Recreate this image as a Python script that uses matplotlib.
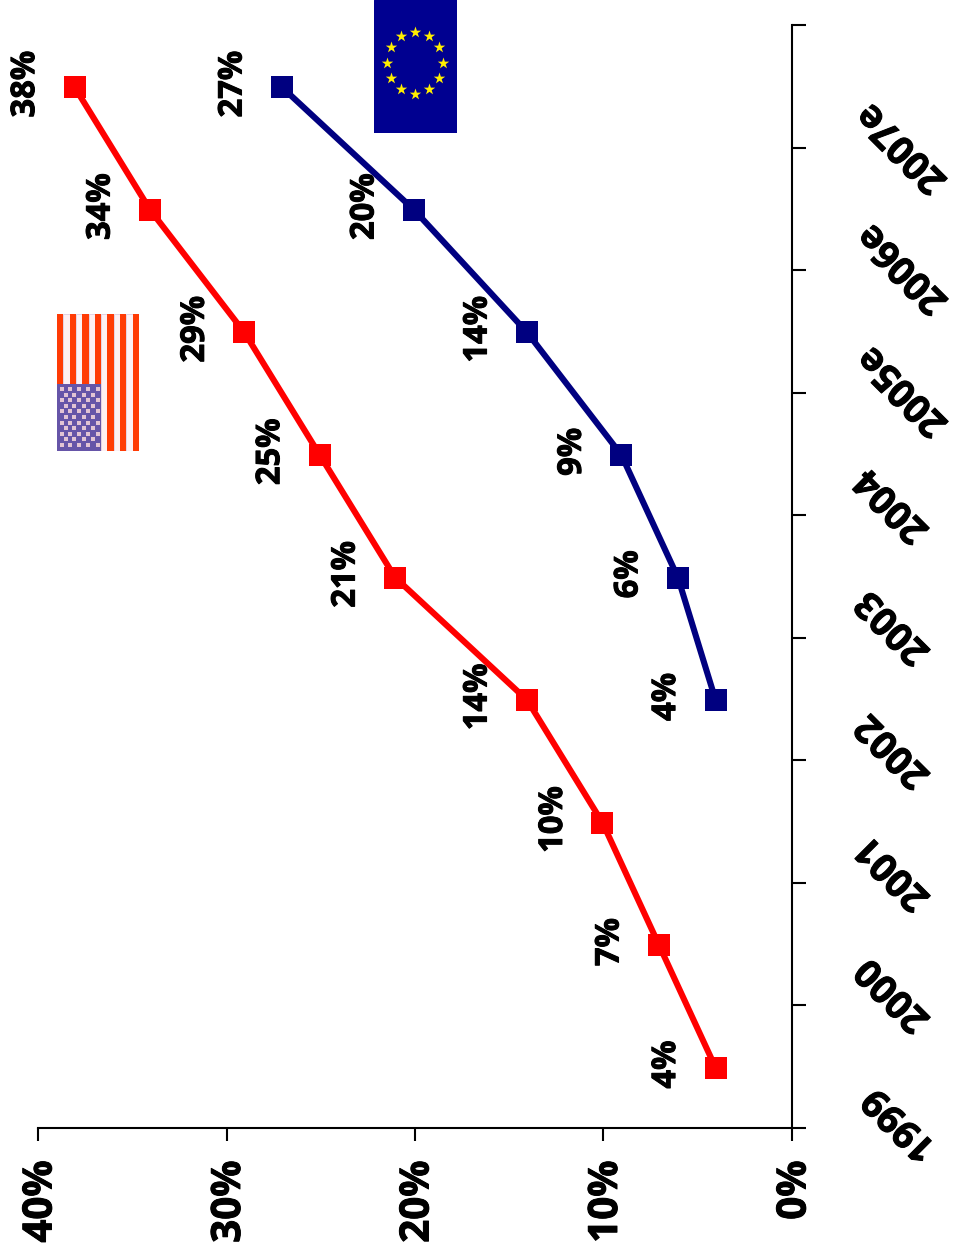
import numpy as np
from matplotlib import pyplot as plt
from matplotlib.patches import Rectangle
from matplotlib.transforms import ScaledTranslation
import matplotlib.patheffects as pe

W, H = 954, 1256

years = ['1999', '2000', '2001', '2002', '2003', '2004', '2005e', '2006e', '2007e']
us = [4, 7, 10, 14, 21, 25, 29, 34, 38]
eu = [None, None, None, 4, 6, 9, 14, 20, 27]
value_ticks = [0, 10, 20, 30, 40]

# per label pixel shifts, the year labels don't line up evenly in the original
year_dx = [3, -4, -4, -4, -4, -5, -2, -2, -3]
year_dy = [4, 11, 10, 10, 11, 10, 2, 2, 0]

plt.rcParams['font.family'] = ['Open Sans', 'DejaVu Sans']
plt.rcParams['font.weight'] = 'bold'
heavy = [pe.withStroke(linewidth=0.7, foreground='black')]


def px_axes(left, top, right, bottom):
    return fig.add_axes([left / W, 1 - bottom / H, (right - left) / W, (bottom - top) / H])


fig = plt.figure(figsize=(W / 100, H / 100), dpi=100)
ax = px_axes(38, 25, 792, 1128)

# marks sit a pixel off the tick grid in the original
nudge = ax.transData + ScaledTranslation(-1 / 100, -1 / 100, fig.dpi_scale_trans)

pos = np.arange(len(years))
for vals, col in [(us, '#ff0000'), (eu, '#000080')]:
    xs = [v for v in vals if v is not None]
    ys = [p for p, v in zip(pos, vals) if v is not None]
    ax.plot(xs, ys, color=col, lw=4.4, marker='s', ms=16.3, mew=0, clip_on=False, transform=nudge)
    for x, y in zip(xs, ys):
        ax.annotate('%d%%' % x, (x, y), xytext=(-36, 1.5), textcoords='offset points',
                    rotation=90, fontsize=23.5, ha='center', va='center', path_effects=heavy)

ax.set_xlim(40, 0)
ax.set_ylim(-0.5, 8.5)
ax.spines['top'].set_visible(False)
ax.spines['left'].set_visible(False)
ax.spines['right'].set_linewidth(1.5)
ax.spines['bottom'].set_linewidth(1.5)

ax.set_xticks(value_ticks)
ax.set_xticklabels(['%d%%' % v for v in value_ticks], rotation=90, fontsize=29, path_effects=heavy)
ax.tick_params(axis='x', length=9.4, width=1.5, pad=14)
shift = ScaledTranslation(3 / 100, 0, fig.dpi_scale_trans)
for t in ax.get_xticklabels():
    t.set_transform(t.get_transform() + shift)

ax.yaxis.tick_right()
ax.set_yticks(np.arange(-0.5, 9, 1))
ax.set_yticklabels(years + [''], rotation=135, fontsize=27.5, va='center', path_effects=heavy)
ax.tick_params(axis='y', length=10, width=1.5, pad=34)
for t, dx, dy in zip(ax.get_yticklabels(), year_dx, year_dy):
    t.set_transform(t.get_transform() + ScaledTranslation(dx / 100, dy / 100, fig.dpi_scale_trans))

# flags
eu_flag = px_axes(374, 0, 457, 133)
eu_flag.set_xlim(374, 457)
eu_flag.set_ylim(133, 0)
eu_flag.axis('off')
eu_flag.add_patch(Rectangle((374, 0), 83, 133, color='#000090'))
a = np.arange(12) * np.pi / 6
eu_flag.scatter(415 + 28 * np.sin(a), 62.5 - 31 * np.cos(a), marker='*', s=75, color='#ffee00', lw=0)

us_flag = px_axes(57, 314, 139, 451)
us_flag.set_xlim(0, 13)
us_flag.set_ylim(451, 314)
us_flag.axis('off')
for i in range(13):
    if i % 2 == 0:
        us_flag.add_patch(Rectangle((i, 314), 1, 137, color='#ff3b05', lw=0))
    else:
        us_flag.add_patch(Rectangle((i, 314), 1, 137, facecolor='#fdf0f3', edgecolor='#d8c4dc', lw=0.5))
us_flag.add_patch(Rectangle((0, 384), 7, 67, color='#6655a8', lw=0))
for r in range(11):
    cols = [0.8, 2.1, 3.5, 4.9, 6.5] if r % 2 == 0 else [1.4, 2.7, 4.3, 5.7]
    us_flag.scatter(cols, [389 + 5.6 * r] * len(cols), marker='s', s=6, color='#e2c4d4', lw=0)

fig.savefig('out.png', dpi=100)
